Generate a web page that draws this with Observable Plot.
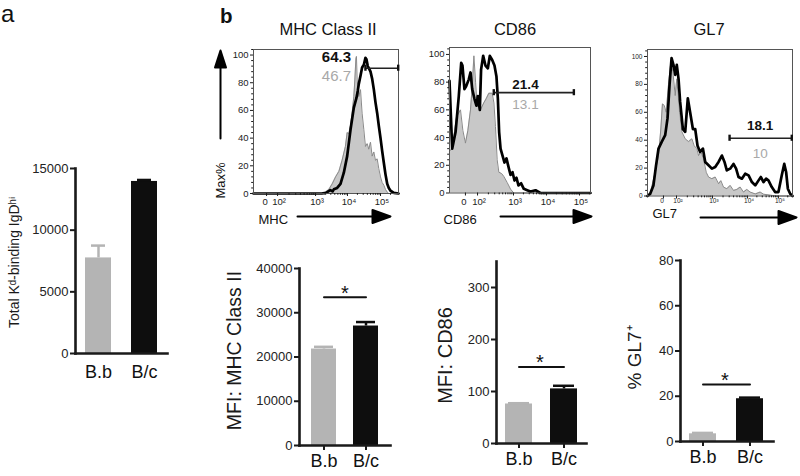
<!DOCTYPE html>
<html><head><meta charset="utf-8">
<script src="https://cdn.jsdelivr.net/npm/d3@7"></script>
<script src="https://cdn.jsdelivr.net/npm/@observablehq/plot@0.6"></script>
<style>
body{margin:0;background:#fff;}
#fig{position:relative;width:800px;height:476px;overflow:hidden;font-family:"Liberation Sans",Arial,Helvetica,sans-serif;color:#111;}
.abs{position:absolute;}
.txt{position:absolute;white-space:nowrap;}
</style></head><body><div id="fig"></div>
<script>
// ---------------- DATA ----------------
const groups = ["B.b", "B/c"];
// panel a: total Kd-binding IgD-hi
const kdMeans = [7750, 13950];
const kdErrors = [1000, 120];
const kdTicks = [0, 5000, 10000, 15000];
// panel b, bar charts
const mhcMeans = [21800, 27000];
const mhcErrors = [500, 900];
const mhcTicks = [0, 10000, 20000, 30000, 40000];
const cd86Means = [76, 105];
const cd86Errors = [1.5, 6];
const cd86Ticks = [0, 100, 200, 300];
const gl7Means = [3.4, 18.9];
const gl7Errors = [0.4, 0.5];
const gl7Ticks = [0, 20, 40, 60, 80];
const sigLevels = [33500, 147, 25.2]; // MHC, CD86, GL7 significance bars
// histogram decade labels and their display-channel positions (0-100)
const decadeLabels = ["0", "10²", "10³", "10⁴", "10⁵"];
const mhcDecades = [9.0, 16.6, 42.8, 64.8, 87.6];
const cd86Decades = [11.3, 19.9, 45.4, 68.8, 92.2];
const gl7Decades = [11.0, 20.0, 44.8, 69.0, 90.3];
const histTicks = [0, 20, 40, 60, 80, 100];
// histograms: [display channel, % of max]; Bb = grey filled, Bc = black line
const mhcBb = [[0,0],[48,0],[49.7,1],[52,3],[54.3,7],[56.6,12],[58.9,16],[61.1,24],[63.4,34],[64.6,44],[65.7,43],[66.9,49],[68,58],[69.2,70],[69.9,82],[70.6,97],[71,99],[71.5,82],[72.6,70],[73.8,75],[74.9,58],[76.1,46],[77.2,34],[78.4,36],[79.5,32],[80.7,37],[81.8,27],[83,30],[84.1,24],[85.3,25],[86.4,18],[87.6,12],[88.7,8],[89.9,6],[91,3],[92.2,1],[93.3,0],[100,0]];
const mhcBc = [[0,0],[47,0],[50,0.5],[53,2.5],[54.5,1.5],[55.4,3],[57.7,4],[60,7],[62.3,15],[64.6,27],[66.9,46],[69.2,62],[71,69],[71.9,74],[72.6,79],[73.8,85],[74.9,91],[76.1,93],[77.2,98],[77.9,97],[78.8,92],[79.8,90],[80.7,88],[81.8,83],[83,75],[84.1,66],[85.3,58],[86.4,49],[87.6,40],[88.7,31],[89.9,22],[91,14],[92.2,7],[93.3,4],[94.5,2],[96.8,0.5],[100,0]];
const cd86Bb = [[0,30],[1.5,32],[3,40],[5,55],[7.8,60],[9.5,45],[11.3,36],[13,45],[14.9,60],[16.3,80],[17.3,99],[18.5,80],[19.6,63],[21,62],[22,60],[24.3,65],[26,68],[27.9,72],[30.3,72],[31.5,65],[32.6,48],[33.8,24],[35,15],[37,14],[38.5,12],[40.9,7.6],[43.3,2.8],[45.6,0],[100,0]];
const cd86Bc = [[0,81],[1.9,32],[4.3,44],[6.6,70],[8.3,94],[9.2,92],[10.6,75],[11.8,77],[13.7,82],[14.9,87],[16.1,75],[17.7,68],[19.1,63],[20.1,70],[21.5,60],[22.4,89],[23.9,99],[25.5,92],[27.2,90],[28.6,99],[30.3,96],[31.9,92],[33.3,84],[34.3,68],[35.2,44],[36.2,32],[37.6,27],[39,22],[40.4,25],[41.8,19],[43.3,13],[44.7,15],[46.1,9],[47.5,11],[48.9,5.5],[50.8,7],[52.7,3],[55.1,2],[57.4,1],[61,2],[64.5,0],[100,0]];
const gl7Bb = [[0,0],[1.8,1.5],[5.3,17],[7.6,29],[9.2,48],[10.3,66],[11.5,65],[12.9,60],[14.5,80],[16.1,96],[17.5,89],[19.1,72],[20.2,84],[22.1,60],[23.7,46],[26,41],[28.3,39],[30.6,41],[32.2,36],[34,34],[35.2,29],[36.8,31.6],[38.6,26.8],[40.5,17],[42.1,13.6],[44.4,12.4],[46.7,13.6],[49,8.8],[50.6,11],[52.4,6.4],[54.7,5.2],[57,7.6],[59.3,4],[61.6,4.7],[63.9,6.4],[66.2,2.8],[68.5,4.7],[70.8,2.8],[74.3,1.5],[77.7,2.8],[80,1.3],[84.6,0.6],[89.2,0],[100,0]];
const gl7Bc = [[0,0],[1.8,1.5],[4.1,7.6],[5.9,22],[7.6,34],[9.9,39],[12.2,43.6],[13.8,55.6],[15.2,79.6],[16.6,98.8],[17.9,94],[19.1,86.8],[20.2,94],[21.4,84],[22.5,67.6],[24.4,48],[26,46],[27.8,70],[29.4,60],[31.3,48],[32.9,48],[34.5,36],[36.3,31.6],[38.2,34],[39.8,24.4],[42.1,22],[44.4,19.6],[46.7,20.8],[49,24.4],[51.3,29],[53.1,24.4],[54.7,18.4],[57,19.6],[59.3,23],[61.1,19.6],[62.8,13.6],[65.1,12.4],[67.4,16],[69.7,14.8],[72,10],[74.3,7.6],[76.6,11.2],[78.2,13.6],[80,10],[81.8,12.4],[83.4,11.2],[85.7,6.4],[88,2.8],[90.3,2.8],[92.6,14.8],[94.3,23],[95.6,17.2],[96.8,5.2],[98.4,1.6],[100,0]];
// gates: [from channel, to channel, level], and gated percentages [Bb, Bc]
const mhcGate = [77.2, 99.8, 90.5];   const mhcGatePct = ["46.7", "64.3"];
const cd86Gate = [31.4, 88.2, 72.4];  const cd86GatePct = ["13.1", "21.4"];
const gl7Gate = [56.6, 99.5, 41.4];   const gl7GatePct = ["10", "18.1"];

// ---------------- RENDER ----------------
const fig = document.getElementById("fig");
const FONT = '"Liberation Sans", Arial, Helvetica, sans-serif';
const GREY = "#b4b4b4", BLACK = "#0e0e0e";
const baseStyle = {fontFamily: FONT, fontSize: "13px", color: "#1a1a1a", background: "transparent", overflow: "visible"};

function place(node, left, top) {
  const d = document.createElement("div");
  d.className = "abs"; d.style.left = left + "px"; d.style.top = top + "px";
  d.appendChild(node); fig.appendChild(d);
}
function label(text, css) {
  const d = document.createElement("div");
  d.className = "txt"; d.textContent = text; Object.assign(d.style, css); fig.appendChild(d);
}

function solidArrow(headLength, headHalfWidth) {
  return {draw(ctx, l) {
    ctx.moveTo(0, 0); ctx.lineTo(0, -l + headLength);
    ctx.moveTo(-headHalfWidth, -l + headLength); ctx.lineTo(0, -l); ctx.lineTo(headHalfWidth, -l + headLength); ctx.closePath();
  }};
}

function barPanel(L) {
  const data = groups.map((g, i) => ({g, v: L.means[i], e: L.errors[i], c: i === 0 ? GREY : BLACK}));
  const marks = [
    Plot.barY(data, {x: "g", y: "v", fill: "c"}),
    Plot.ruleX(data, {x: "g", y1: "v", y2: d => d.v + d.e, stroke: "c", strokeWidth: 2.5}),
    Plot.tickY(data, {x: "g", y: d => d.v + d.e, stroke: "c", strokeWidth: 2.5, insetLeft: L.capInset, insetRight: L.capInset}),
    Plot.frame({anchor: "left", strokeWidth: 2.6, strokeLinecap: "square"}),
    Plot.frame({anchor: "bottom", strokeWidth: 2.6, strokeLinecap: "square"}),
    Plot.axisY({ticks: L.ticks, tickSize: 5, tickPadding: 2, fontSize: 13, strokeWidth: 2, label: null, tickFormat: d => String(d), fill: "#222"}),
    Plot.axisX({tickSize: L.xTickSize, tickPadding: L.xPad, fontSize: 18, strokeWidth: 2, label: null, fill: "#111"}),
    Plot.text([L.title], {text: d => d, frameAnchor: "left", textAnchor: "middle", lineAnchor: "middle", rotate: -90, dx: L.tdx, dy: L.tdy, fontSize: L.tsize, fill: "#1a1a1a"})
  ];
  if (L.sig != null) {
    const s = [{g: "B.b", y: L.sig}, {g: "B/c", y: L.sig}];
    marks.push(Plot.lineY(s, {x: "g", y: "y", strokeWidth: 2, stroke: "#111"}));
    marks.push(Plot.text([s[0]], {x: "g", y: "y", text: () => "*", dx: L.starDx, dy: -4, fontSize: 20, fill: "#111"}));
  }
  return Plot.plot({
    width: L.w, height: L.h, marginLeft: L.ml, marginRight: L.mr, marginTop: L.mt, marginBottom: L.mb,
    x: {type: "band", domain: groups, paddingInner: L.pi, paddingOuter: L.po, label: null, axis: null},
    y: {domain: L.domain, label: null, axis: null},
    color: {type: "identity"},
    style: baseStyle,
    marks
  });
}

function histPanel(L) {
  const bb = L.bb.map(([c, v]) => ({c, v}));
  const bc = L.bc.map(([c, v]) => ({c, v}));
  const labMap = new Map(L.decades.map((c, i) => [c, decadeLabels[i]]));
  const minorX = [];
  for (let k = 1; k < L.decades.length - 1; k++) {
    const a = L.decades[k], b = L.decades[k + 1];
    for (let m = 2; m <= 9; m++) minorX.push(a + Math.log10(m) * (b - a));
  }
  const last = L.decades[L.decades.length - 1], w = last - L.decades[L.decades.length - 2];
  { const p = last + Math.log10(2) * w; if (p <= 100) minorX.push(p); }
  const minorY = d3.range(0, L.ymax + 0.1, 4).filter(v => v % 20 !== 0);
  const [gFrom, gTo, gLevel] = L.gate;
  const capH = 2.2;
  const marks = [
    Plot.areaY(bb, {x: "c", y: "v", fill: "#c8c8c8"}),
    Plot.lineY(bb, {x: "c", y: "v", stroke: "#8a8a8a", strokeWidth: 1}),
    Plot.lineY(bc, {x: "c", y: "v", stroke: "#000", strokeWidth: 2.7, strokeLinejoin: "round"}),
    Plot.frame({stroke: "#555", strokeWidth: 1}),
    Plot.ruleY([L.gate], {x1: d => d[0], x2: d => d[1], y: d => d[2], stroke: "#222", strokeWidth: 1.6}),
    Plot.ruleX([gFrom, gTo], {x: d => d, y1: gLevel - capH, y2: gLevel + capH, stroke: "#111", strokeWidth: 2.4}),
    Plot.text([L.pct[1]], {text: d => d, x: L.pctX, y: L.pctYBc, fontSize: L.pctFont, fontWeight: "bold", fill: "#111"}),
    Plot.text([L.pct[0]], {text: d => d, x: L.pctX, y: L.pctYBb, fontSize: L.pctFont, fill: "#a8a8a8"}),
    Plot.axisY({ticks: histTicks, tickSize: 3, tickPadding: 2, fontSize: L.tickFont, label: null, fill: "#222"}),
    Plot.axisY({ticks: minorY, tickSize: 1.8, tickFormat: () => "", label: null}),
    Plot.axisX({ticks: L.decades, tickFormat: () => "", tickSize: 3, label: null}),
    Plot.axisX({ticks: minorX, tickSize: 1.8, tickFormat: () => "", label: null}),
    Plot.text(L.decades.slice(0, 1), {x: d => d, text: d => labMap.get(d), frameAnchor: "bottom", lineAnchor: "top", dy: L.tickDy, dx: -1.5, fontSize: L.tickFont, fill: "#222"}),
    Plot.text(L.decades.slice(1), {x: d => d, text: d => labMap.get(d), frameAnchor: "bottom", lineAnchor: "top", dy: L.tickDy, dx: 1.5, fontSize: L.tickFont, fill: "#222"}),
    Plot.text([L.axisName], {text: d => d, frameAnchor: "bottom-left", dx: L.nameDx, dy: L.nameDy, textAnchor: "start", lineAnchor: "middle", fontSize: 13, fill: "#111"}),
    Plot.vector([0], {frameAnchor: "bottom-left", dx: L.arrowDx, dy: L.arrowDy, length: L.arrowLen, rotate: 90, anchor: "start",
      shape: solidArrow(18, 6.5), stroke: "#000", fill: "#000", strokeWidth: 2})
  ];
  if (L.maxLabel) {
    marks.push(Plot.vector([0], {frameAnchor: "bottom-left", dx: -33, dy: -55, length: 88, rotate: 0, anchor: "start",
      shape: solidArrow(17, 5.5), stroke: "#000", fill: "#000", strokeWidth: 2}));
    marks.push(Plot.text(["Max%"], {text: d => d, frameAnchor: "bottom-left", textAnchor: "middle", lineAnchor: "middle", dx: -33, dy: -13, rotate: -90, fontSize: 13, fill: "#111"}));
  }
  return Plot.plot({
    width: L.w, height: L.h, marginLeft: L.ml, marginRight: L.mr, marginTop: L.mt, marginBottom: L.mb,
    x: {domain: [0, 100], label: null, axis: null},
    y: {domain: [0, L.ymax], label: null, axis: null},
    style: baseStyle,
    marks
  });
}

// panel a
place(barPanel({w: 185, h: 260, ml: 75, mr: 18, mt: 28, mb: 47, means: kdMeans, errors: kdErrors, domain: [0, 15000], ticks: kdTicks,
  pi: 0.44, po: 0.215, capInset: 6, xTickSize: 0, xPad: 12, title: "Total Kᵈ-binding IgDʰⁱ", tdx: -61, tdy: 1.5, tsize: 14, sig: null}), 0, 140);
// panel b bars
place(barPanel({w: 200, h: 226, ml: 99, mr: 10, mt: 18, mb: 31, means: mhcMeans, errors: mhcErrors, domain: [0, 40000], ticks: mhcTicks,
  pi: 0.41, po: 0.27, capInset: 3, xTickSize: 5, xPad: 4, title: "MFI: MHC Class II", tdx: -65, tdy: -6.5, tsize: 19.5, sig: sigLevels[0], starDx: 21}), 200, 250);
place(barPanel({w: 200, h: 226, ml: 96, mr: 14, mt: 11, mb: 33, means: cd86Means, errors: cd86Errors, domain: [0, 350], ticks: cd86Ticks,
  pi: 0.41, po: 0.2, capInset: 3, xTickSize: 5, xPad: 4, title: "MFI: CD86", tdx: -51, tdy: 3, tsize: 20, sig: sigLevels[1], starDx: 21}), 400, 250);
place(barPanel({w: 200, h: 226, ml: 80, mr: 27, mt: 10, mb: 35, means: gl7Means, errors: gl7Errors, domain: [0, 80], ticks: gl7Ticks,
  pi: 0.42, po: 0.18, capInset: 3, xTickSize: 5, xPad: 4, title: "% GL7⁺", tdx: -46, tdy: 6.5, tsize: 19, sig: sigLevels[2], starDx: 22}), 600, 250);

// panel b histograms
place(histPanel({w: 200, h: 190, ml: 53, mr: 2, mt: 9, mb: 37, ymax: 104, bb: mhcBb, bc: mhcBc, decades: mhcDecades, tickFont: 9.5, tickDy: 5,
  gate: mhcGate, pct: mhcGatePct, pctX: 57.2, pctYBc: 98.4, pctYBb: 84.5, pctFont: 15, axisName: "MHC", nameDx: 5, nameDy: 26,
  arrowDx: 44, arrowDy: 23, arrowLen: 93, maxLabel: true}), 200, 40);
place(histPanel({w: 200, h: 190, ml: 49, mr: 10, mt: 7, mb: 37.5, ymax: 105, bb: cd86Bb, bc: cd86Bc, decades: cd86Decades, tickFont: 9.5, tickDy: 5,
  gate: cd86Gate, pct: cd86GatePct, pctX: 53.9, pctYBc: 78.3, pctYBb: 63.9, pctFont: 13.5, axisName: "CD86", nameDx: -6, nameDy: 26.5,
  arrowDx: 51, arrowDy: 23.5, arrowLen: 91, maxLabel: false}), 400, 40);
place(histPanel({w: 200, h: 190, ml: 47, mr: 8, mt: 9, mb: 34.5, ymax: 105, bb: gl7Bb, bc: gl7Bc, decades: gl7Decades, tickFont: 6.5, tickDy: 2.5,
  gate: gl7Gate, pct: gl7GatePct, pctX: 77.7, pctYBc: 50.5, pctYBb: 30.3, pctFont: 13.5, axisName: "GL7", nameDx: 5, nameDy: 17.5,
  arrowDx: 53, arrowDy: 21.5, arrowLen: 96, maxLabel: false}), 600, 40);

// panel letters and histogram titles
label("a", {left: "1px", top: "0px", fontSize: "24px", lineHeight: "27px"});
label("b", {left: "220px", top: "4px", fontSize: "20.5px", lineHeight: "23px", fontWeight: "bold"});
label("MHC Class II", {left: "228px", width: "200px", textAlign: "center", top: "18.5px", fontSize: "16.5px", lineHeight: "20px"});
label("CD86", {left: "415px", width: "200px", textAlign: "center", top: "18.5px", fontSize: "16.5px", lineHeight: "20px"});
label("GL7", {left: "609px", width: "200px", textAlign: "center", top: "19px", fontSize: "16.5px", lineHeight: "20px"});
</script></body></html>
